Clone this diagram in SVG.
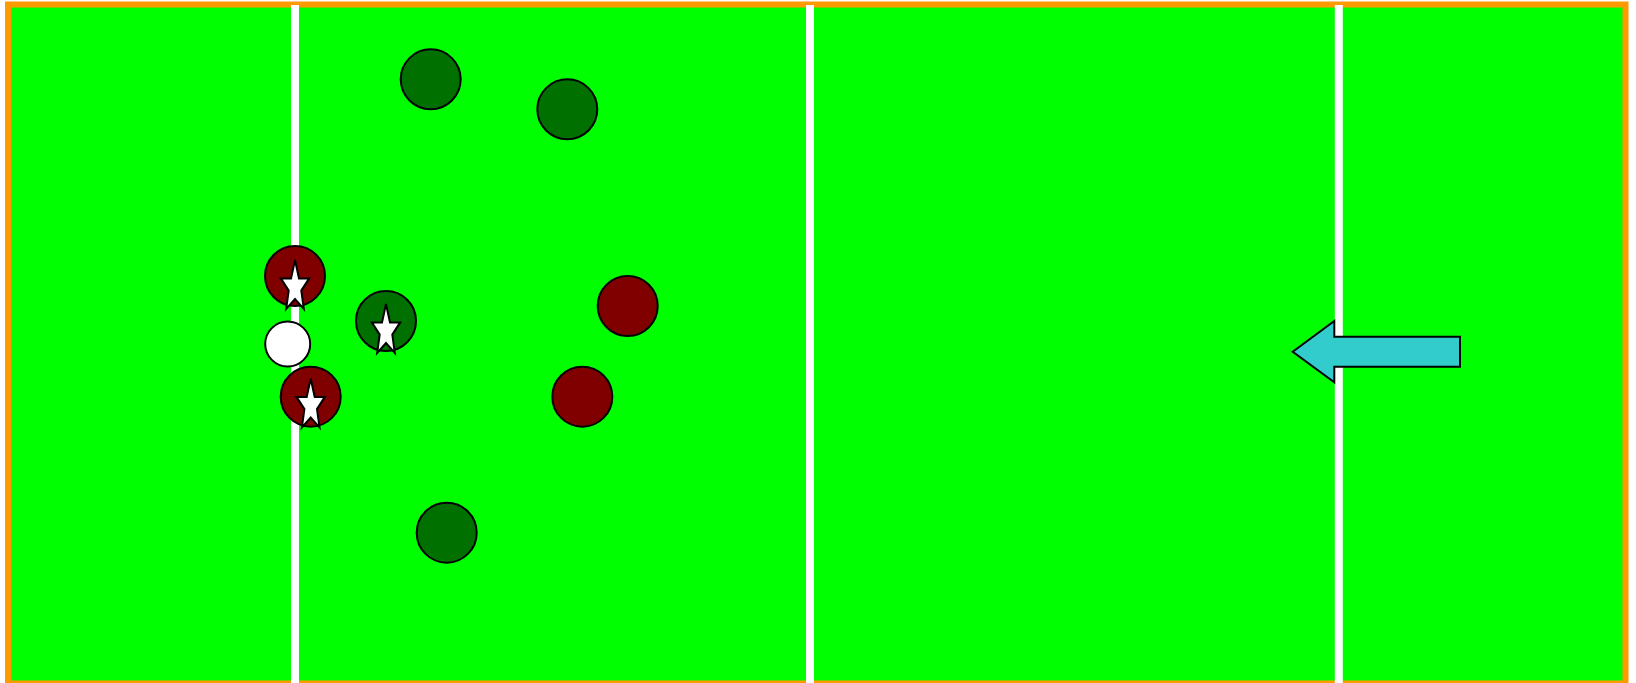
<svg xmlns="http://www.w3.org/2000/svg" width="1636" height="683" viewBox="0 0 1636 683">
<style>
.p{stroke:#000;stroke-width:2}
.red{fill:#800000}
.grn{fill:#007000}
.wht{fill:#fff}
.line{stroke:#fff;stroke-width:8}
.star{fill:#fff;stroke:#000;stroke-width:2}
</style>
<defs>
<path id="star" d="M0,-27 L4,-8.6 L14.2,-8.6 L6.3,3.6 L8.8,21.8 L0,12 L-8.8,21.8 L-6.3,3.6 L-14.2,-8.6 L-4,-8.6 Z"/>
</defs>
<rect width="1636" height="683" fill="#fff"/>
<g id="field">
<rect x="8" y="4.5" width="1617.5" height="679" fill="#00ff00" stroke="#ff9900" stroke-width="6"/>
<line class="line" x1="295" y1="5" x2="295" y2="683"/>
<line class="line" x1="810" y1="5" x2="810" y2="683"/>
<line class="line" x1="1338.8" y1="5" x2="1338.8" y2="683"/>
</g>
<g id="arrow">
<polygon points="1292.7,351.7 1334.3,321 1334.3,336.7 1460,336.7 1460,366.7 1334.3,366.7 1334.3,382.3" fill="#33cccc" stroke="#000" stroke-width="2"/>
</g>
<g id="g1"><circle class="p grn" cx="430.7" cy="79.3" r="30"/></g>
<g id="g2"><circle class="p grn" cx="567.3" cy="109.3" r="30"/></g>
<g id="r1"><circle class="p red" cx="627.7" cy="306" r="30"/></g>
<g id="r2"><circle class="p red" cx="582.3" cy="396.7" r="30"/></g>
<g id="g3"><circle class="p grn" cx="446.7" cy="532.7" r="30"/></g>
<g id="rs1"><circle class="p red" cx="295" cy="276" r="30"/><use href="#star" class="star" transform="translate(295,287)"/></g>
<g id="ball"><circle class="p wht" cx="287.7" cy="344" r="22.5"/></g>
<g id="gs1"><circle class="p grn" cx="386" cy="321" r="30"/><use href="#star" class="star" transform="translate(386,331)"/></g>
<g id="rs2"><circle class="p red" cx="310.7" cy="396.7" r="30"/><use href="#star" class="star" transform="translate(310.7,405.5)"/></g>
</svg>
